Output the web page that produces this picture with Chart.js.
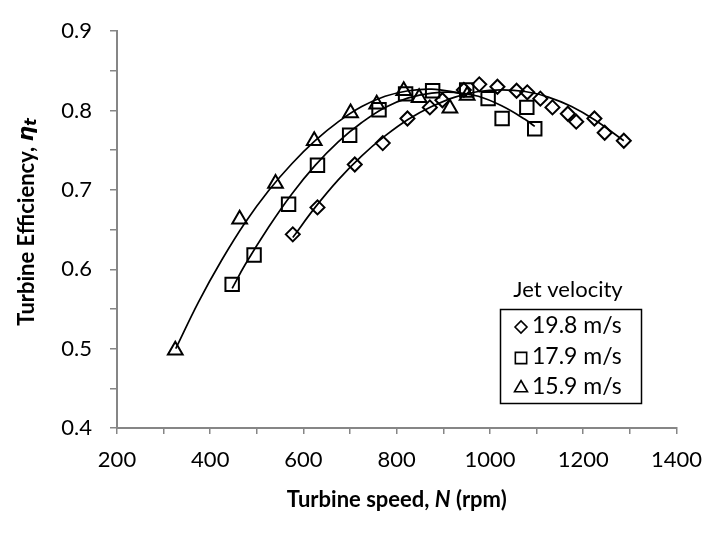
<!DOCTYPE html>
<html>
<head>
<meta charset="utf-8">
<script src="https://cdn.jsdelivr.net/npm/chart.js@4.4.0/dist/chart.umd.min.js"></script>
<style>
html,body{margin:0;padding:0;background:#ffffff;}
#wrap{width:715px;height:533px;position:relative;}
</style>
</head>
<body>
<div id="wrap"><canvas id="c" width="715" height="533"></canvas></div>
<script>
// ---------- data ----------
const seriesLabels = ['19.8 m/s', '17.9 m/s', '15.9 m/s'];
const legendTitle = 'Jet velocity';
const xAxisTitle = ['Turbine speed, ', 'N', ' (rpm)'];
const yAxisTitle = ['Turbine Efficiency, ', '\u03B7', 't'];

// measured points
const speed198 = [577, 630, 710, 770, 823, 871, 898, 944, 977, 1016, 1057, 1080, 1108, 1134, 1167, 1185, 1224, 1246, 1287];
const eff198   = [0.644, 0.678, 0.732, 0.759, 0.790, 0.804, 0.813, 0.826, 0.833, 0.830, 0.825, 0.823, 0.815, 0.804, 0.796, 0.786, 0.790, 0.772, 0.762];

const speed179 = [447, 494, 568, 630, 699, 762, 819, 877, 950, 996, 1026, 1079, 1096];
const eff179   = [0.581, 0.618, 0.682, 0.731, 0.769, 0.801, 0.821, 0.825, 0.826, 0.815, 0.790, 0.804, 0.777];

const speed159 = [325, 463, 540, 623, 701, 757, 815, 848, 914, 951];
const eff159   = [0.498, 0.663, 0.708, 0.762, 0.797, 0.808, 0.825, 0.816, 0.803, 0.819];

// trend curves
const curveSpeed198 = [577, 625, 675, 725, 775, 825, 875, 925, 975, 1025, 1075, 1125, 1175, 1225, 1287];
const curveEff198   = [0.640, 0.678, 0.713, 0.743, 0.768, 0.789, 0.805, 0.817, 0.824, 0.826, 0.824, 0.817, 0.805, 0.788, 0.762];

const curveSpeed179 = [447, 475, 525, 575, 625, 675, 725, 775, 825, 875, 925, 975, 1025, 1075, 1096];
const curveEff179   = [0.576, 0.606, 0.653, 0.695, 0.731, 0.761, 0.785, 0.804, 0.816, 0.822, 0.823, 0.818, 0.806, 0.789, 0.780];

const curveSpeed159 = [326, 375, 425, 475, 525, 575, 625, 675, 725, 775, 825, 875, 925, 951];
const curveEff159   = [0.500, 0.559, 0.612, 0.659, 0.699, 0.733, 0.762, 0.786, 0.805, 0.818, 0.825, 0.827, 0.823, 0.819];

// axis ticks
const xMin = 200, xMax = 1400, xStep = 100, xLabelEvery = 200;
const yMin = 0.4, yMax = 0.9, yStep = 0.05, yLabelEvery = 0.1;

// ---------- styling ----------
const FONT = "Lato, 'Open Sans', 'Liberation Sans', sans-serif";
const GREEK = "'DejaVu Sans', 'Noto Sans', sans-serif";
const AXIS_GREY = '#868686';

function pts(xs, ys) { return xs.map((x, i) => ({ x: x, y: ys[i] })); }

const markerStyles = ['rectRot', 'rect', 'triangle'];
const markerRadius = [7, 9.5, 8.5];

const scatterSets = [
  pts(speed198, eff198), pts(speed179, eff179), pts(speed159, eff159)
].map((d, i) => ({
  label: seriesLabels[i],
  data: d,
  showLine: false,
  pointStyle: markerStyles[i],
  pointRadius: markerRadius[i],
  pointHoverRadius: markerRadius[i],
  pointBorderWidth: 2,
  pointBorderColor: '#000',
  pointBackgroundColor: 'rgba(0,0,0,0)',
  borderColor: '#000',
  backgroundColor: 'rgba(0,0,0,0)'
}));

const curveSets = [
  pts(curveSpeed198, curveEff198), pts(curveSpeed179, curveEff179), pts(curveSpeed159, curveEff159)
].map((d, i) => ({
  label: 'trend ' + seriesLabels[i],
  data: d,
  showLine: true,
  tension: 0.4,
  pointRadius: 0,
  pointHoverRadius: 0,
  borderColor: '#000',
  borderWidth: 1.7,
  fill: false
}));

function drawRich(ctx, segs, cx, cy, rotate) {
  ctx.save();
  ctx.translate(cx, cy);
  if (rotate) ctx.rotate(-Math.PI / 2);
  let total = 0;
  segs.forEach(s => { ctx.font = s.font; s.w = ctx.measureText(s.t).width; total += s.w; });
  let x = -total / 2;
  ctx.textBaseline = 'middle';
  ctx.textAlign = 'left';
  ctx.fillStyle = '#000';
  segs.forEach(s => { ctx.font = s.font; ctx.fillText(s.t, x, s.dy || 0); x += s.w; });
  ctx.restore();
}

const decorPlugin = {
  id: 'decor',
  afterDraw(chart) {
    const ctx = chart.ctx;
    const area = chart.chartArea;
    // axis titles
    drawRich(ctx, [
      { t: xAxisTitle[0], font: "bold 22px " + FONT },
      { t: xAxisTitle[1], font: "italic bold 22px " + FONT },
      { t: xAxisTitle[2], font: "bold 22px " + FONT }
    ], (area.left + area.right) / 2, 500, false);
    drawRich(ctx, [
      { t: yAxisTitle[0], font: "bold 22px " + FONT },
      { t: yAxisTitle[1], font: "italic bold 22px " + GREEK },
      { t: yAxisTitle[2], font: "italic bold 16px " + GREEK, dy: 5 }
    ], 27, 222, true);

    // legend
    ctx.save();
    ctx.fillStyle = '#000';
    ctx.font = "22px " + FONT;
    ctx.textAlign = 'center';
    ctx.textBaseline = 'middle';
    ctx.fillText(legendTitle, 568, 290);
    ctx.strokeStyle = '#000';
    ctx.lineWidth = 1.5;
    ctx.strokeRect(500.5, 309.5, 141, 94);
    const rowsY = [326, 357, 387];
    for (let i = 0; i < 3; i++) {
      const ds = chart.data.datasets[i];
      ctx.strokeStyle = '#000';
      ctx.fillStyle = 'rgba(0,0,0,0)';
      ctx.lineWidth = 1.6;
      Chart.helpers.drawPoint(ctx, {
        pointStyle: ds.pointStyle, rotation: 0,
        radius: [6, 8, 7.5][i], borderWidth: 1.6
      }, 521, rowsY[i] + 1);
      ctx.fillStyle = '#000';
      ctx.font = "23px " + FONT;
      ctx.textAlign = 'left';
      ctx.textBaseline = 'middle';
      ctx.fillText(ds.label, 532, rowsY[i]);
    }
    ctx.restore();
  }
};

new Chart(document.getElementById('c'), {
  type: 'scatter',
  data: { datasets: scatterSets.concat(curveSets) },
  options: {
    responsive: false,
    animation: false,
    events: [],
    layout: { padding: { left: 0, right: 34, top: 23, bottom: 0 } },
    plugins: {
      legend: { display: false },
      tooltip: { enabled: false },
      title: { display: false }
    },
    scales: {
      x: {
        type: 'linear',
        min: xMin, max: xMax,
        afterFit: s => { s.height = 105; },
        ticks: {
          stepSize: xStep,
          autoSkip: false,
          maxRotation: 0,
          padding: 13,
          color: '#000',
          font: { family: FONT, size: 22 },
          callback: v => (Math.abs(v % xLabelEvery) < 1e-6 ? String(v) : '')
        },
        grid: { drawOnChartArea: false, drawTicks: true, tickLength: 6, color: AXIS_GREY, lineWidth: 1.5 },
        border: { color: AXIS_GREY, width: 2 }
      },
      y: {
        type: 'linear',
        min: yMin, max: yMax,
        afterFit: s => { s.width = 117; },
        ticks: {
          stepSize: yStep,
          autoSkip: false,
          padding: 18,
          color: '#000',
          font: { family: FONT, size: 22 },
          callback: v => {
            const r = v / yLabelEvery;
            return Math.abs(r - Math.round(r)) < 1e-6 ? v.toFixed(1) : '';
          }
        },
        grid: { drawOnChartArea: false, drawTicks: true, tickLength: 7, color: AXIS_GREY, lineWidth: 1.5 },
        border: { color: AXIS_GREY, width: 2 }
      }
    }
  },
  plugins: [decorPlugin]
});
</script>
</body>
</html>
